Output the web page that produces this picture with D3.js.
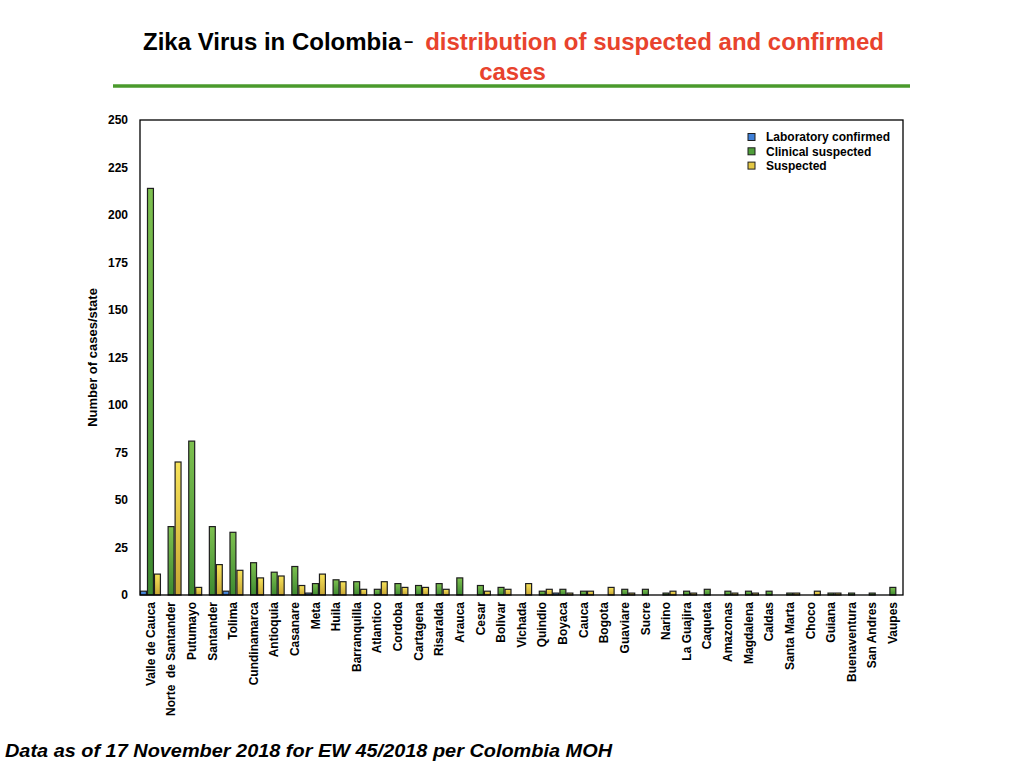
<!DOCTYPE html>
<html>
<head>
<meta charset="utf-8">
<script src="https://cdn.jsdelivr.net/npm/d3@7"></script>
<style>
  html, body { margin: 0; padding: 0; background: #fff; }
  svg { display: block; font-family: "Liberation Sans", Arial, Helvetica, sans-serif; }
</style>
</head>
<body>
<svg id="chart" width="1024" height="768"></svg>
<script>
// ---- data ----
const categories = ["Valle de Cauca","Norte  de Santander","Putumayo","Santander","Tolima","Cundinamarca","Antioquia","Casanare","Meta","Huila","Barranquilla","Atlantico","Cordoba","Cartagena","Risaralda","Arauca","Cesar","Bolivar","Vichada","Quindio","Boyaca","Cauca","Bogota","Guaviare","Sucre","Narino","La Guajira","Caqueta","Amazonas","Magdalena","Caldas","Santa Marta","Choco","Guiana","Buenaventura","San Andres","Vaupes"];
const seriesNames = ["Laboratory confirmed","Clinical suspected","Suspected"];
const labConfirmed = [2,0,0,0,2,0,0,0,1,0,0,0,0,0,0,0,0,0,0,0,1,0,0,0,0,0,0,0,0,0,0,0,0,0,0,0,0];
const clinicalSuspected = [214,36,81,36,33,17,12,15,6,8,7,3,6,5,6,9,5,4,0,2,3,2,0,3,3,1,2,3,2,2,2,1,0,1,1,1,4];
const suspected = [11,70,4,16,13,9,10,5,11,7,3,7,4,4,3,0,2,3,6,3,1,2,4,1,0,2,1,0,1,1,0,1,2,1,0,0,0];
const yTicks = [0,25,50,75,100,125,150,175,200,225,250];

(function () {
const seriesValues = [labConfirmed, clinicalSuspected, suspected];
const rows = categories.map((c, i) => ({cat: c, vals: seriesNames.map((s, j) => ({series: s, value: seriesValues[j][i]}))}));

const svg = d3.select("#chart");
const mLeft = 140, mRight = 903, mTop = 120, mBottom = 595;

// gradients
const defs = svg.append("defs");
const grads = [
  {id: "gBlue", c1: "#5a9ae8", c2: "#2f6cc4"},
  {id: "gGreen", c1: "#7dc04f", c2: "#3d8a30"},
  {id: "gYellow", c1: "#f7e35a", c2: "#c8a634"}
];
grads.forEach(g => {
  const lg = defs.append("linearGradient").attr("id", g.id).attr("x1", 0).attr("y1", 0).attr("x2", 0).attr("y2", 1);
  lg.append("stop").attr("offset", "0%").attr("stop-color", g.c1);
  lg.append("stop").attr("offset", "100%").attr("stop-color", g.c2);
});
const fillFor = d3.scaleOrdinal().domain(seriesNames).range(["url(#gBlue)","url(#gGreen)","url(#gYellow)"]);
const legendFill = d3.scaleOrdinal().domain(seriesNames).range(["#3f80d8","#4f9e3a","#e3c744"]);

// scales
const x = d3.scaleBand().domain(categories).range([mLeft, mRight]).paddingInner(0).paddingOuter(0);
const xs = d3.scaleBand().domain(seriesNames).range([0.5, x.bandwidth() - 0.2]).paddingInner(0.15);
const y = d3.scaleLinear().domain([0, 250]).range([mBottom, mTop]);

// title
const title = svg.append("text").attr("x", 143).attr("y", 50).attr("font-size", 24).attr("font-weight", "bold");
title.append("tspan").attr("fill", "#000").text("Zika Virus in Colombia");
title.append("tspan").attr("fill", "#000").attr("font-size", 16).attr("dy", -3).attr("dx", 3).text("–");
title.append("tspan").attr("fill", "#e8432d").attr("dy", 3).attr("dx", 12).text("distribution of suspected and confirmed");
svg.append("text").attr("x", 512.5).attr("y", 80).attr("text-anchor", "middle")
  .attr("font-size", 24).attr("font-weight", "bold").attr("fill", "#e8432d").text("cases");
svg.append("line").attr("x1", 113).attr("x2", 910).attr("y1", 86).attr("y2", 86)
  .attr("stroke", "#4a9a2c").attr("stroke-width", 3.5);

// bars
const groups = svg.append("g").selectAll("g").data(rows).join("g")
  .attr("transform", d => `translate(${x(d.cat)},0)`);
groups.selectAll("rect").data(d => d.vals.filter(v => v.value > 0)).join("rect")
  .attr("x", d => xs(d.series))
  .attr("width", xs.bandwidth())
  .attr("y", d => y(d.value))
  .attr("height", d => y(0) - y(d.value))
  .attr("fill", d => fillFor(d.series))
  .attr("stroke", "#1e1e1e")
  .attr("stroke-width", 1.2);

// frame
svg.append("rect").attr("x", mLeft).attr("y", mTop).attr("width", mRight - mLeft).attr("height", mBottom - mTop)
  .attr("fill", "none").attr("stroke", "#000").attr("stroke-width", 1.3);

// y axis
const yAxis = svg.append("g").attr("transform", `translate(${mLeft},0)`)
  .call(d3.axisLeft(y).tickValues(yTicks).tickSize(0).tickPadding(12));
yAxis.select(".domain").remove();
yAxis.selectAll("text").attr("font-size", 12).attr("font-weight", "bold").attr("fill", "#000")
  .attr("font-family", "Liberation Sans, Arial, sans-serif");

svg.append("text").attr("transform", `translate(97,${(mTop + mBottom) / 2}) rotate(-90)`)
  .attr("text-anchor", "middle").attr("font-size", 13).attr("font-weight", "bold").text("Number of cases/state");

// x axis
const xAxis = svg.append("g").attr("transform", `translate(0,${mBottom})`)
  .call(d3.axisBottom(x).tickSize(0));
xAxis.select(".domain").remove();
xAxis.selectAll("text")
  .attr("transform", "rotate(-90)")
  .attr("x", -7).attr("y", 0).attr("dy", "0.36em")
  .attr("text-anchor", "end")
  .attr("font-size", 12).attr("font-weight", "bold").attr("fill", "#000")
  .attr("font-family", "Liberation Sans, Arial, sans-serif")
  .style("white-space", "pre");

// legend
const legend = svg.append("g").selectAll("g").data(seriesNames).join("g")
  .attr("transform", (d, i) => `translate(748,${137 + i * 14.3})`);
legend.append("rect").attr("x", 0).attr("y", -3.5).attr("width", 7).attr("height", 7)
  .attr("fill", d => legendFill(d)).attr("stroke", "#1e1e1e").attr("stroke-width", 1);
legend.append("text").attr("x", 18).attr("y", 0).attr("dy", "0.35em")
  .attr("font-size", 12).attr("font-weight", "bold").text(d => d);

// footnote
svg.append("text").attr("x", 5).attr("y", 757).attr("font-size", 18.5)
  .attr("font-weight", "bold").attr("font-style", "italic")
  .attr("textLength", 607).attr("lengthAdjust", "spacingAndGlyphs")
  .text("Data as of 17 November 2018 for EW 45/2018 per Colombia MOH");
})();
</script>
</body>
</html>
